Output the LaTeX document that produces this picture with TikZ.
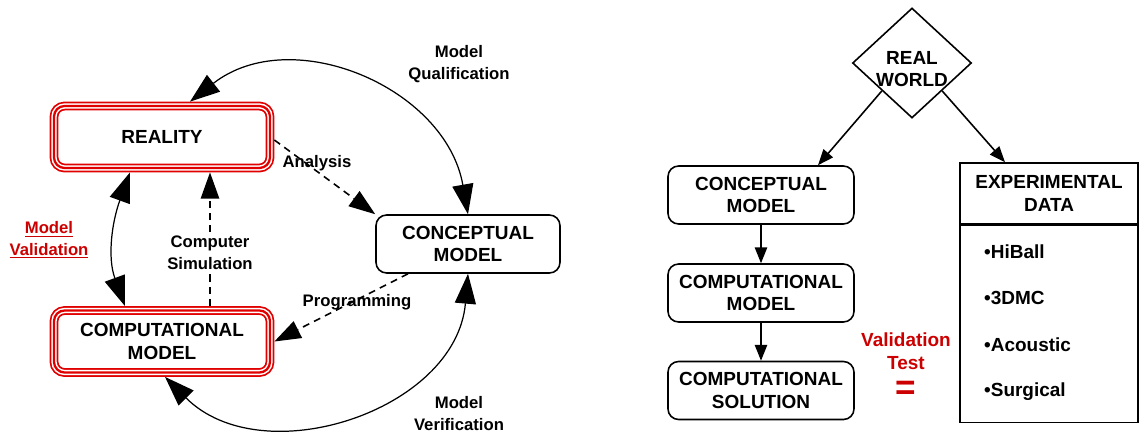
\documentclass[tikz,border=0pt]{standalone}
\usepackage{fontspec}
\setmainfont{Liberation Sans}
\usetikzlibrary{shapes.geometric, arrows.meta, positioning}
\definecolor{frame-red}{RGB}{225,0,0}
\definecolor{label-red}{RGB}{204,0,0}
\newcommand\boxfont{\fontsize{10.8}{12.8}\selectfont\bfseries}
\newcommand\notefont{\fontsize{9.5}{12.5}\selectfont\bfseries}

\tikzset{
  redbox/.style={preaction={draw=frame-red, line width=5pt}, preaction={draw=white, line width=3pt},
    draw=frame-red, line width=1.3pt, rounded corners=6pt, minimum width=4.32cm, minimum height=1.24cm,
    align=center, font=\boxfont, outer sep=2.5pt},
  blackbox/.style={draw, line width=0.9pt, rounded corners=6pt, minimum width=3.72cm, minimum height=1.16cm,
    align=center, font=\boxfont},
  notelabel/.style={align=center, font=\notefont, inner sep=1pt},
  bigarrow/.style={{Triangle[length=17pt,width=12pt]}-{Triangle[length=17pt,width=12pt]}, line width=0.7pt},
  dasharrow/.style={-{Triangle[length=15pt,width=10.5pt]}, line width=0.9pt, dash pattern=on 4pt off 3pt},
  smallarrow/.style={-{Triangle[length=9pt,width=7pt]}, line width=0.9pt},
}

\begin{document}
\begin{tikzpicture}[x=0.02cm, y=-0.02cm]
  \useasboundingbox (0,0) rectangle (1140,434);

  % left: modelling cycle
  \node[redbox] (reality) at (162,137) {REALITY};
  \node[redbox] (compmodel) at (162,341.5) {COMPUTATIONAL\\MODEL};
  \node[blackbox, minimum width=3.68cm] (concmodel) at (468,244) {CONCEPTUAL\\MODEL};

  % outer arcs
  \draw[bigarrow] ([xshift=0.56cm]reality.north) to[out=38, in=100, looseness=1.1] (concmodel.north);
  \draw[bigarrow] (concmodel.south) to[out=-95, in=-45, looseness=1.1] ([xshift=0.06cm]compmodel.south);
  \draw[bigarrow] ([xshift=-0.64cm]reality.south) to[out=-110, in=110] ([xshift=-0.74cm]compmodel.north);

  % dashed links
  \draw[dasharrow] ([yshift=-0.06cm]reality.east) -- (concmodel.north west);
  \draw[dasharrow] ([xshift=-1.2cm]concmodel.south) -- (compmodel.east);
  \draw[dasharrow] ([xshift=0.96cm]compmodel.north) -- node[notelabel, fill=white, pos=0.4, inner sep=2pt] (simlabel) {Computer\\Simulation} ([xshift=0.96cm]reality.south);

  % labels
  \node[notelabel] (qualif) at (459,64) {Model\\Qualification};
  \node[notelabel] (analysis) at (317,163) {Analysis};
  \node[notelabel] (program) at (357,302) {Programming};
  \node[notelabel] (verif) at (459,414) {Model\\Verification};
  \node[notelabel, text=label-red] (valid) at (49,240) {\underline{Model}\\\underline{Validation}};

  % right: validation chain
  \node[draw, diamond, line width=0.9pt, minimum width=2.38cm, minimum height=2.2cm, inner sep=0pt] (realworld) at (912,63) {};
  \node[align=center, font=\boxfont] (rwtext) at (912,69) {REAL\\WORLD};
  \node[blackbox] (rconc) at (761,195) {CONCEPTUAL\\MODEL};
  \node[blackbox] (rcomp) at (761,293) {COMPUTATIONAL\\MODEL};
  \node[blackbox] (rsol) at (761,390.5) {COMPUTATIONAL\\SOLUTION};

  \node[draw, line width=0.9pt, minimum width=3.56cm, minimum height=1.22cm, align=center, font=\boxfont] (exptitle) at (1049,193.5) {EXPERIMENTAL\\DATA};
  \node[draw, line width=0.9pt, minimum width=3.56cm, minimum height=3.94cm, anchor=north] (explist) at (exptitle.south) {};
  \node[font=\boxfont, anchor=west] (hiball) at (978,252) {•HiBall};
  \node[font=\boxfont, anchor=west] (tdmc) at (978,298) {•3DMC};
  \node[font=\boxfont, anchor=west] (acoustic) at (978,345) {•Acoustic};
  \node[font=\boxfont, anchor=west] (surgical) at (978,392) {•Surgical};

  \draw[smallarrow] (realworld.south west) -- ([xshift=1.14cm]rconc.north);
  \draw[smallarrow] (realworld.south east) -- ([xshift=-0.88cm]exptitle.north);
  \draw[smallarrow] (rconc) -- (rcomp);
  \draw[smallarrow] (rcomp) -- (rsol);

  \node[align=center, font=\boxfont, text=label-red] (valtest) at (906,351) {Validation\\Test};
  \node[font=\fontsize{20}{20}\selectfont\bfseries, text=label-red] (equal) at (906,390) {=};
\end{tikzpicture}
\end{document}
